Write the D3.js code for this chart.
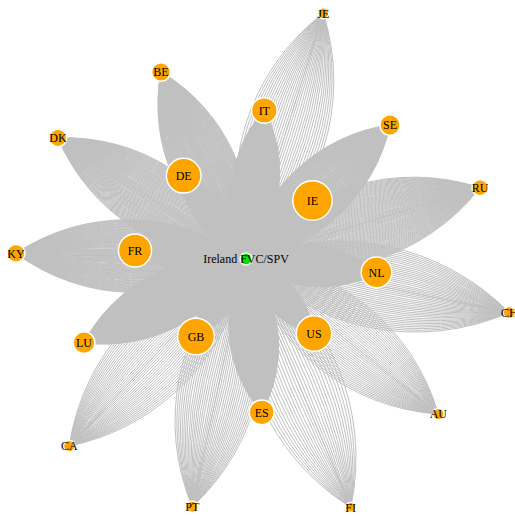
<!DOCTYPE html>
<html><head><meta charset="utf-8">
<script src="https://cdn.jsdelivr.net/npm/d3@7"></script>
<style>body{margin:0;background:#fff;overflow:hidden}</style>
</head><body><svg id="chart" width="515" height="516"></svg>
<script>
// ---- data ----
const hubName = "Ireland FVC/SPV";
const countries = ["IE","GB","US","DE","FR","NL","IT","ES","LU","SE","BE","KY","DK","RU","CH","AU","CA","PT","JE","FI"];
const linkCounts = [504,435,407,389,354,304,210,197,149,130,110,100,95,80,45,42,42,40,36,30];
// force-layout result, relative to the hub (layout units)
const layoutX = [66.5,-50,68,-62.3,-111,130.5,18.3,15.7,-162,144,-85,-230,-188,234,263.3,192.3,-176.7,-53.7,77.3,104.7];
const layoutY = [-58.5,77.5,74.5,-83.3,-8.5,13.3,-148.5,153.3,83.7,-134,-187,-5.7,-121,-71.3,53.5,155,187,247.7,-245.7,248.3];

// ---- chart ----
const W = 515, H = 516;
const x = d3.scaleLinear().domain([-246, 269]).range([0, W]);
const y = d3.scaleLinear().domain([-259, 257]).range([0, H]);
const r = d3.scaleSqrt().domain([d3.min(linkCounts), d3.max(linkCounts)]).range([5, 19.7]);

const svg = d3.select("#chart");
const hub = {id: hubName, x: x(0), y: y(0), hub: true};
const nodes = countries.map((c, i) => ({id: c, x: x(layoutX[i]), y: y(layoutY[i]), count: linkCounts[i]}));
const links = [];
nodes.forEach(n => { for (let i = 0; i < n.count; i++) links.push({source: hub, target: n, index: i, total: n.count}); });

function arcPath(d) {
  const sx = d.source.x, sy = d.source.y, tx = d.target.x, ty = d.target.y;
  const c = Math.hypot(tx - sx, ty - sy);
  const half = Math.ceil(d.total / 2);
  const j = Math.floor(d.index / 2);
  const sweep = d.index % 2;
  if (j === 0) return `M${sx},${sy}L${tx},${ty}`;
  const ratio = 0.158 * j / Math.max(1, half - 1);
  const R = c * (0.25 + ratio * ratio) / (2 * ratio);
  return `M${sx},${sy}A${R},${R} 0 0,${sweep} ${tx},${ty}`;
}

svg.append("g").selectAll("path").data(links).join("path")
  .attr("d", arcPath)
  .attr("fill", "none")
  .attr("stroke", "#c0c0c0")
  .attr("stroke-width", 1);

const all = nodes.concat([hub]);
svg.append("g").selectAll("circle").data(all).join("circle")
  .attr("cx", d => d.x).attr("cy", d => d.y)
  .attr("r", d => d.hub ? 6 : r(d.count))
  .attr("fill", d => d.hub ? "#00e600" : "orange")
  .attr("stroke", "#fff").attr("stroke-width", 1.5);

svg.append("g").selectAll("text").data(all).join("text")
  .attr("x", d => d.x).attr("y", d => d.y)
  .attr("dy", "0.35em")
  .attr("text-anchor", "middle")
  .attr("font-family", "'Liberation Serif', 'Times New Roman', serif")
  .attr("font-size", 12)
  .attr("fill", "#000")
  .text(d => d.id);
</script></body></html>
